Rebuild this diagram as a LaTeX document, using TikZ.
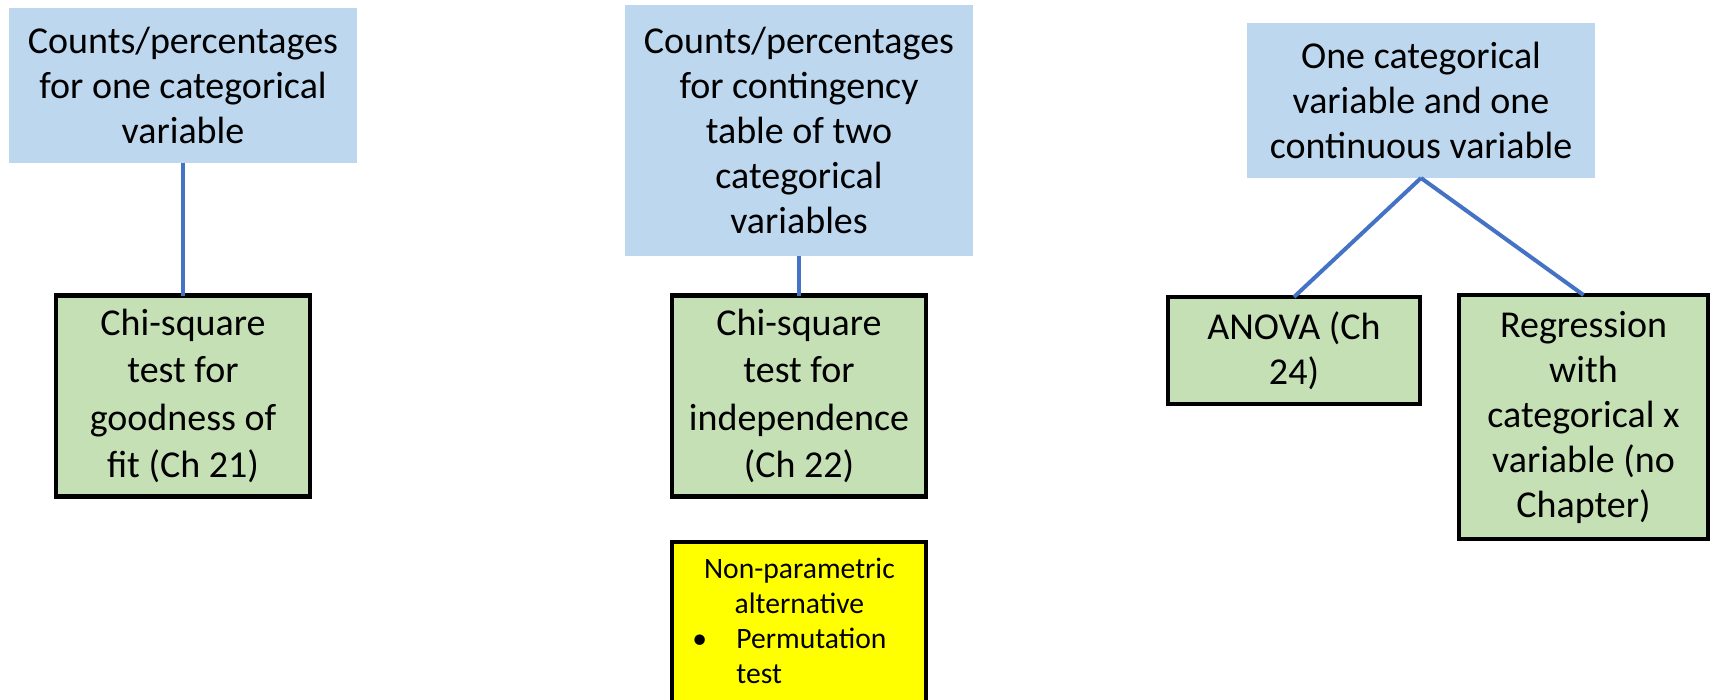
\documentclass[tikz,border=0pt]{standalone}
\usepackage{fontspec}
\setmainfont{Carlito}
\definecolor{catblue}{HTML}{BDD7EE}
\definecolor{testgreen}{HTML}{C5E0B4}
\definecolor{altyellow}{HTML}{FFFF00}
\definecolor{linkblue}{HTML}{4472C4}
\newcommand\fbig{\fontsize{19pt}{22.5pt}\selectfont}
\newcommand\fbigw{\fontsize{19pt}{23.6pt}\selectfont}
\newcommand\fsmall{\fontsize{14.8pt}{17.5pt}\selectfont}
\begin{document}
\begin{tikzpicture}[x=0.5pt,y=-0.5pt,
  catbox/.style={fill=catblue, inner sep=0pt, outer sep=0pt, align=center, font=\fbig},
  testbox/.style={fill=testgreen, draw=black, line width=2.2pt, inner sep=0pt, outer sep=0pt, align=center, font=\fbig},
  altbox/.style={fill=altyellow, draw=black, line width=2.2pt, inner sep=0pt, outer sep=0pt},
  link/.style={draw=linkblue, line width=2pt}]
\useasboundingbox[fill=white] (0,0) rectangle (1712,700);
% column 1
\node[catbox, minimum width=174pt, minimum height=77.5pt] (b1) at (183,85.5) {Counts/percentages\\for one categorical\\variable};
\node[testbox, font=\fbigw, minimum width=127pt, minimum height=100.5pt] (g1) at (183,396) {Chi-square\\test for\\goodness of\\fit (Ch 21)};
% column 2
\node[catbox, minimum width=174pt, minimum height=125.5pt] (b2) at (799,130.5) {Counts/percentages\\for contingency\\table of two\\categorical\\variables};
\node[testbox, font=\fbigw, minimum width=127pt, minimum height=100.5pt] (g2) at (799,396) {Chi-square\\test for\\independence\\(Ch 22)};
\node[altbox, minimum width=127pt, minimum height=89pt] (y1) at (799,631) {};
\node[anchor=base west, text width=127pt, inner sep=0pt, align=left, font=\fsmall] (y1t) at (672,578)
  {\makebox[127pt][c]{Non-parametric}\\
   \makebox[127pt][c]{alternative}\\
   \hspace*{10pt}\makebox[22pt][l]{\textbullet}Permutation\\
   \hspace*{32pt}test};
% column 3
\node[catbox, minimum width=174pt, minimum height=77.5pt] (b3) at (1421,100.5) {One categorical\\variable and one\\continuous variable};
\node[testbox, minimum width=126pt, minimum height=53.5pt] (g3) at (1294,350.5) {ANOVA (Ch\\24)};
\node[testbox, minimum width=124.5pt, minimum height=122pt] (g4) at (1583.5,417) {Regression\\with\\categorical x\\variable (no\\Chapter)};
% connectors
\draw[link] (b1.south) -- (g1.north);
\draw[link] (b2.south) -- (g2.north);
\draw[link] (b3.south) -- (g3.north);
\draw[link] (b3.south) -- (g4.north);
\end{tikzpicture}
\end{document}
